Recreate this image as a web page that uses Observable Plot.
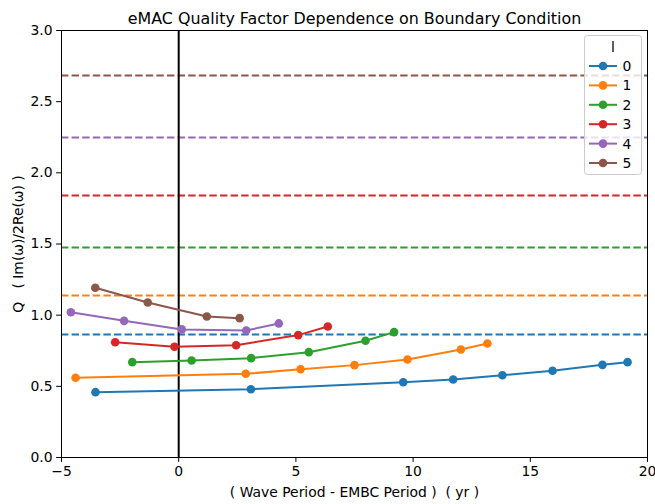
<!DOCTYPE html>
<html>
<head>
<meta charset="utf-8">
<script src="https://cdn.jsdelivr.net/npm/d3@7"></script>
<script src="https://cdn.jsdelivr.net/npm/@observablehq/plot@0.6"></script>
<style>
  html, body { margin: 0; padding: 0; background: #fff; }
  #chart { position: relative; width: 655px; height: 504px; font-family: "DejaVu Sans", sans-serif; }
</style>
</head>
<body>
<div id="chart"></div>
<script>
// Harmonic degrees l and their colours
const degrees = [0, 1, 2, 3, 4, 5];
const colors = ["#1f77b4", "#ff7f0e", "#2ca02c", "#d62728", "#9467bd", "#8c564b"];

// Quality factor for each l with the reference boundary condition (dashed lines)
const qReference = [0.864, 1.138, 1.476, 1.841, 2.249, 2.684];

// Period offset (yr) and quality factor for each l
const dx0 = [-3.55, 3.08, 9.58, 11.71, 13.81, 15.95, 18.08, 19.15];
const q0  = [0.459, 0.480, 0.529, 0.548, 0.578, 0.609, 0.651, 0.670];
const dx1 = [-4.40, 2.86, 5.20, 7.50, 9.76, 12.04, 13.17];
const q1  = [0.560, 0.588, 0.620, 0.649, 0.689, 0.759, 0.801];
const dx2 = [-1.98, 0.55, 3.09, 5.55, 7.97, 9.19];
const q2  = [0.670, 0.682, 0.698, 0.740, 0.820, 0.881];
const dx3 = [-2.71, -0.18, 2.45, 5.10, 6.36];
const q3  = [0.810, 0.778, 0.789, 0.860, 0.920];
const dx4 = [-4.60, -2.33, 0.13, 2.88, 4.27];
const q4  = [1.021, 0.960, 0.900, 0.892, 0.942];
const dx5 = [-3.56, -1.32, 1.20, 2.60];
const q5  = [1.193, 1.089, 0.991, 0.979];

const xTicks = [-5, 0, 5, 10, 15, 20];
const yTicks = [0, 0.5, 1, 1.5, 2, 2.5, 3];

const series = [[dx0, q0], [dx1, q1], [dx2, q2], [dx3, q3], [dx4, q4], [dx5, q5]];
const points = series.flatMap(([xs, ys], l) => xs.map((x, i) => ({l, x, q: ys[i]})));
const refs = qReference.map((q, l) => ({l, q}));

const font = "DejaVu Sans, sans-serif";
const tickFont = 13.9;

const plot = Plot.plot({
  width: 655,
  height: 504,
  marginLeft: 61,
  marginRight: 8,
  marginTop: 30,
  marginBottom: 47,
  style: {fontFamily: font, fontSize: tickFont + "px", color: "#000", background: "#fff"},
  x: {domain: [-5, 20]},
  y: {domain: [0, 3]},
  color: {type: "ordinal", domain: degrees, range: colors},
  marks: [
    Plot.ruleY(refs, {y: "q", stroke: "l", strokeWidth: 2, strokeDasharray: "7.4,3.2"}),
    Plot.ruleX([0], {stroke: "#000", strokeWidth: 2}),
    Plot.line(points, {x: "x", y: "q", z: "l", stroke: "l", strokeWidth: 2}),
    Plot.dot(points, {x: "x", y: "q", fill: "l", r: 4.3}),
    Plot.frame({stroke: "#000", strokeWidth: 1}),
    Plot.axisX({
      ticks: xTicks, tickSize: 4.9, tickPadding: 4,
      tickFormat: d => d < 0 ? "\u2212" + Math.abs(d) : String(d),
      label: "( Wave Period - EMBC Period )  ( yr )",
      labelAnchor: "center", labelArrow: "none", labelOffset: 39, fontSize: tickFont
    }),
    Plot.axisY({
      ticks: yTicks, tickSize: 4.9, tickPadding: 4,
      tickFormat: d => d.toFixed(1),
      label: "Q\u00a0\u00a0\u00a0( Im(\u03c9)/2Re(\u03c9) )",
      labelAnchor: "center", labelArrow: "none", labelOffset: 48, fontSize: tickFont
    }),
    Plot.text(["eMAC Quality Factor Dependence on Boundary Condition"], {
      frameAnchor: "top", dy: -18, fontSize: 15.9, fill: "#000"
    })
  ]
});

document.getElementById("chart").appendChild(plot);

// Legend: line with marker for each l, inside a rounded box
const svg = d3.select(plot);
const lg = svg.append("g").attr("font-family", font).attr("font-size", tickFont).attr("fill", "#000");
lg.append("rect")
  .attr("x", 584.5).attr("y", 35.5).attr("width", 57).attr("height", 139)
  .attr("rx", 3).attr("fill", "#fff").attr("fill-opacity", 0.8)
  .attr("stroke", "#ccc");
lg.append("text").attr("x", 613).attr("y", 52).attr("text-anchor", "middle").attr("fill", "#000").text("l");
degrees.forEach((l, i) => {
  const y = 66 + i * 19.4;
  lg.append("line").attr("x1", 589).attr("x2", 617).attr("y1", y).attr("y2", y)
    .attr("stroke", colors[i]).attr("stroke-width", 2);
  lg.append("circle").attr("cx", 603).attr("cy", y).attr("r", 4.3).attr("fill", colors[i]);
  lg.append("text").attr("x", 627).attr("y", y).attr("dy", "0.36em").attr("fill", "#000").text(String(l));
});
</script>
</body>
</html>
